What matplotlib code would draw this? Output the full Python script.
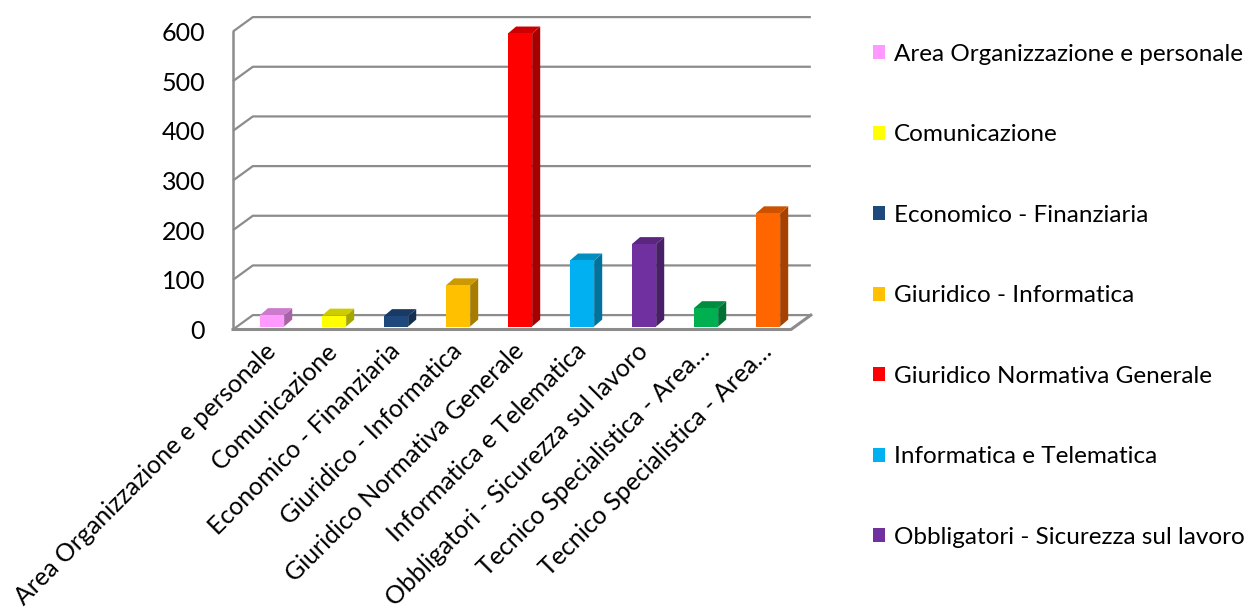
import numpy as np
import matplotlib
matplotlib.use("Agg")
import matplotlib.pyplot as plt
from matplotlib.patches import Polygon, Patch
from matplotlib.colors import to_rgb

categories = [
    "Area Organizzazione e personale",
    "Comunicazione",
    "Economico - Finanziaria",
    "Giuridico - Informatica",
    "Giuridico Normativa Generale",
    "Informatica e Telematica",
    "Obbligatori - Sicurezza sul lavoro",
    "Tecnico Specialistica - Area\u2026",
    "Tecnico Specialistica - Area\u2026",
]
values = [23, 22, 21, 83, 590, 133, 166, 37, 228]
colors = ["#FF99FF", "#FFFF00", "#1F497D", "#FFC000", "#FF0000",
          "#00B0F0", "#7030A0", "#00B050", "#FF6600"]
y_ticks = [0, 100, 200, 300, 400, 500, 600]
n_legend = 7  # legend box only has room for the first seven series

plt.rcParams["font.family"] = ["Lato", "DejaVu Sans"]

W, H = 1249, 613
fig = plt.figure(figsize=(W / 100, H / 100), dpi=100)
ax = fig.add_axes([233 / W, 1 - 329.5 / H, 558 / W, 298 / H])
n = len(categories)
ax.set_xlim(0, n)
ax.set_ylim(0, 600)
for s in ax.spines.values():
    s.set_visible(False)

grid_c = "#8C8C8C"
# depth of the box (wall offset) in data units
wall_dx, wall_dy = 0.32, 29
# bars: shift from front plane, width and their own depth
bar_shift, bar_base, bar_w = 0.13, 6, 0.39
bar_dx, bar_dy = 0.13, 14


def shade(c, f):
    r, g, b = to_rgb(c)
    return (r * f, g * f, b * f)


# back wall gridlines and left wall diagonals
for t in y_ticks:
    ax.plot([0, wall_dx, n + wall_dx], [t, t + wall_dy, t + wall_dy],
            color=grid_c, lw=1.6, clip_on=False, zorder=1, solid_capstyle="butt")
ax.plot([0, 0], [0, 600], color=grid_c, lw=1.8, clip_on=False, zorder=1)
# floor front edge and right edge
ax.plot([0, n, n + wall_dx], [0, 0, wall_dy], color=grid_c, lw=2.2,
        clip_on=False, zorder=1)

# 3D-looking bars: front face, side face, top face
for i, (v, c) in enumerate(zip(values, colors)):
    x0 = i + 0.5 + bar_shift - bar_w / 2
    x1 = x0 + bar_w
    y0, y1 = bar_base, bar_base + v
    side = Polygon([(x1, y0), (x1 + bar_dx, y0 + bar_dy), (x1 + bar_dx, y1 + bar_dy), (x1, y1)],
                   closed=True, fc=shade(c, 0.65), ec="none", zorder=3, clip_on=False)
    top = Polygon([(x0, y1), (x1, y1), (x1 + bar_dx, y1 + bar_dy), (x0 + bar_dx, y1 + bar_dy)],
                  closed=True, fc=shade(c, 0.8), ec="none", zorder=3, clip_on=False)
    ax.add_patch(side)
    ax.add_patch(top)
    ax.bar(x0, v, width=bar_w, bottom=y0, align="edge", color=c, zorder=4, clip_on=False)

ax.set_yticks(y_ticks)
ax.set_yticklabels([str(t) for t in y_ticks], fontsize=18)
ax.tick_params(axis="y", length=0, pad=20)

ax.set_xticks(np.arange(n) + 0.5)
ax.set_xticklabels(categories, fontsize=18, rotation=45, ha="right",
                   rotation_mode="anchor")
ax.tick_params(axis="x", length=0, pad=7)

handles = [Patch(facecolor=c) for c in colors[:n_legend]]
fig.legend(handles, categories[:n_legend], loc="upper left",
           bbox_to_anchor=(863 / W, 1 - 34 / H), frameon=False, fontsize=17.5,
           handlelength=0.52, handleheight=0.52, handletextpad=0.35,
           labelspacing=2.45, borderaxespad=0)

fig.savefig("out.png", dpi=100, facecolor="white")
